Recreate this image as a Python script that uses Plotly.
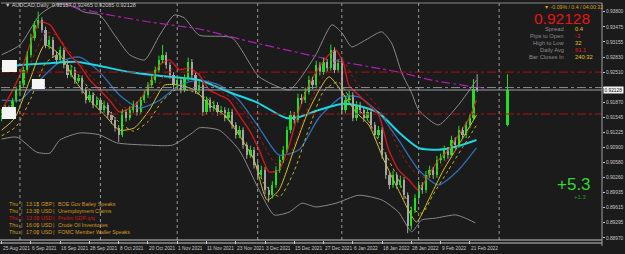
import plotly.graph_objects as go

# ---------------- data ----------------
tick_labels = ["25 Aug 2021", "6 Sep 2021", "16 Sep 2021", "28 Sep 2021", "8 Oct 2021",
               "20 Oct 2021", "1 Nov 2021", "11 Nov 2021", "23 Nov 2021", "3 Dec 2021",
               "15 Dec 2021", "27 Dec 2021", "6 Jan 2022", "18 Jan 2022", "28 Jan 2022",
               "9 Feb 2022", "21 Feb 2022"]
tick_bars = [0, 8, 16, 24, 32, 40, 48, 56, 64, 72, 80, 88, 96, 104, 112, 120, 128]
month_start_bars = [5, 27, 48, 70, 93, 114, 136]

opens = [0.9153, 0.9166, 0.9174, 0.9159, 0.9191, 0.9213, 0.9223, 0.9256, 0.9288, 0.9324,
         0.9352, 0.9362, 0.9341, 0.9309, 0.9320, 0.9288, 0.9277, 0.9298, 0.9266, 0.9245,
         0.9256, 0.9234, 0.9238, 0.9213, 0.9191, 0.9202, 0.9181, 0.9191, 0.9170, 0.9181,
         0.9159, 0.9149, 0.9132, 0.9117, 0.9166, 0.9153, 0.9170, 0.9181, 0.9166, 0.9191,
         0.9202, 0.9223, 0.9234, 0.9256, 0.9277, 0.9288, 0.9266, 0.9245, 0.9223, 0.9234,
         0.9213, 0.9238, 0.9273, 0.9245, 0.9213, 0.9223, 0.9166, 0.9191, 0.9174, 0.9181,
         0.9166, 0.9170, 0.9153, 0.9166, 0.9138, 0.9117, 0.9127, 0.9095, 0.9074, 0.9085,
         0.9053, 0.9031, 0.9042, 0.8999, 0.8988, 0.9010, 0.9042, 0.9063, 0.9085, 0.9127,
         0.9159, 0.9149, 0.9196, 0.9191, 0.9209, 0.9234, 0.9223, 0.9266, 0.9251, 0.9273,
         0.9260, 0.9298, 0.9256, 0.9270, 0.9170, 0.9191, 0.9202, 0.9153, 0.9181, 0.9170,
         0.9153, 0.9166, 0.9138, 0.9117, 0.9127, 0.9074, 0.9031, 0.9010, 0.9031, 0.9010,
         0.9021, 0.8988, 0.8922, 0.8956, 0.8982, 0.9010, 0.8999, 0.9031, 0.9042, 0.9031,
         0.9063, 0.9068, 0.9085, 0.9074, 0.9106, 0.9095, 0.9127, 0.9117, 0.9138, 0.9153,
         0.92157]
highs = [0.9172, 0.9181, 0.9180, 0.9196, 0.9220, 0.9232, 0.9262, 0.9296, 0.9333, 0.9360,
         0.9380, 0.9368, 0.9348, 0.9329, 0.9326, 0.9295, 0.9306, 0.9303, 0.9272, 0.9265,
         0.9262, 0.9246, 0.9244, 0.9218, 0.9211, 0.9208, 0.9199, 0.9197, 0.9190, 0.9186,
         0.9166, 0.9155, 0.9138, 0.9172, 0.9171, 0.9178, 0.9190, 0.9188, 0.9198, 0.9211,
         0.9230, 0.9243, 0.9263, 0.9286, 0.9309, 0.9294, 0.9272, 0.9251, 0.9243, 0.9240,
         0.9246, 0.9282, 0.9279, 0.9251, 0.9232, 0.9229, 0.9199, 0.9197, 0.9190, 0.9187,
         0.9179, 0.9176, 0.9174, 0.9172, 0.9144, 0.9136, 0.9133, 0.9101, 0.9094, 0.9091,
         0.9060, 0.9051, 0.9048, 0.9006, 0.9018, 0.9050, 0.9072, 0.9093, 0.9135, 0.9168,
         0.9166, 0.9205, 0.9204, 0.9218, 0.9243, 0.9241, 0.9275, 0.9272, 0.9282, 0.9279,
         0.9310, 0.9304, 0.9279, 0.9276, 0.9199, 0.9211, 0.9208, 0.9189, 0.9187, 0.9176,
         0.9174, 0.9172, 0.9144, 0.9136, 0.9133, 0.9080, 0.9037, 0.9040, 0.9037, 0.9030,
         0.9027, 0.8994, 0.8964, 0.8990, 0.9018, 0.9016, 0.9040, 0.9051, 0.9048, 0.9072,
         0.9077, 0.9094, 0.9091, 0.9115, 0.9112, 0.9136, 0.9133, 0.9146, 0.9162, 0.9236,
         0.92465]
lows = [0.9146, 0.9160, 0.9152, 0.9155, 0.9186, 0.9205, 0.9218, 0.9250, 0.9282, 0.9318,
        0.9344, 0.9335, 0.9302, 0.9300, 0.9281, 0.9268, 0.9272, 0.9259, 0.9238, 0.9240,
        0.9226, 0.9228, 0.9205, 0.9184, 0.9186, 0.9174, 0.9176, 0.9163, 0.9164, 0.9152,
        0.9140, 0.9124, 0.9102, 0.9112, 0.9145, 0.9148, 0.9164, 0.9158, 0.9161, 0.9185,
        0.9196, 0.9217, 0.9228, 0.9250, 0.9270, 0.9258, 0.9237, 0.9215, 0.9216, 0.9206,
        0.9208, 0.9232, 0.9238, 0.9205, 0.9206, 0.9158, 0.9160, 0.9166, 0.9167, 0.9158,
        0.9159, 0.9146, 0.9147, 0.9130, 0.9109, 0.9110, 0.9087, 0.9066, 0.9068, 0.9045,
        0.9023, 0.9024, 0.8990, 0.8973, 0.8981, 0.9004, 0.9036, 0.9057, 0.9079, 0.9120,
        0.9141, 0.9143, 0.9183, 0.9185, 0.9203, 0.9215, 0.9217, 0.9244, 0.9245, 0.9252,
        0.9254, 0.9249, 0.9250, 0.9160, 0.9164, 0.9185, 0.9146, 0.9147, 0.9162, 0.9145,
        0.9147, 0.9130, 0.9109, 0.9110, 0.9066, 0.9023, 0.9001, 0.9004, 0.9002, 0.9004,
        0.8980, 0.8907, 0.8915, 0.8950, 0.8976, 0.8991, 0.8993, 0.9025, 0.9023, 0.9025,
        0.9056, 0.9062, 0.9066, 0.9068, 0.9087, 0.9089, 0.9109, 0.9110, 0.9131, 0.9147,
        0.92085]
closes = [0.9166, 0.9174, 0.9159, 0.9191, 0.9213, 0.9223, 0.9256, 0.9288, 0.9324, 0.9352,
          0.9362, 0.9341, 0.9309, 0.9320, 0.9288, 0.9277, 0.9298, 0.9266, 0.9245, 0.9256,
          0.9234, 0.9238, 0.9213, 0.9191, 0.9202, 0.9181, 0.9191, 0.9170, 0.9181, 0.9159,
          0.9149, 0.9132, 0.9117, 0.9166, 0.9153, 0.9170, 0.9181, 0.9166, 0.9191, 0.9202,
          0.9223, 0.9234, 0.9256, 0.9277, 0.9288, 0.9266, 0.9245, 0.9223, 0.9234, 0.9213,
          0.9238, 0.9273, 0.9245, 0.9213, 0.9223, 0.9166, 0.9191, 0.9174, 0.9181, 0.9166,
          0.9170, 0.9153, 0.9166, 0.9138, 0.9117, 0.9127, 0.9095, 0.9074, 0.9085, 0.9053,
          0.9031, 0.9042, 0.8999, 0.8988, 0.9010, 0.9042, 0.9063, 0.9085, 0.9127, 0.9159,
          0.9149, 0.9196, 0.9191, 0.9209, 0.9234, 0.9223, 0.9266, 0.9251, 0.9273, 0.9260,
          0.9298, 0.9256, 0.9270, 0.9170, 0.9191, 0.9202, 0.9153, 0.9181, 0.9170, 0.9153,
          0.9166, 0.9138, 0.9117, 0.9127, 0.9074, 0.9031, 0.9010, 0.9031, 0.9010, 0.9021,
          0.8988, 0.8922, 0.8956, 0.8982, 0.9010, 0.8999, 0.9031, 0.9042, 0.9031, 0.9063,
          0.9068, 0.9085, 0.9074, 0.9106, 0.9095, 0.9127, 0.9117, 0.9138, 0.9153, 0.92157,
          0.92128]

# higher-timeframe (weekly) candle drawn right of price
htf_ohlc = [0.9138, 0.92465, 0.9135, 0.92128]

# indicator lines, read at key points (bar index, price)
cyan_x = [0, 5.0, 13.2, 20.5, 26.8, 35.0, 43.2, 54.0, 62.2, 69.6, 77.8, 81.3, 86.7, 93.0, 97.6, 103.1, 108.5, 114.0, 119.4, 124.9, 129.8]
cyan_y = [0.9258, 0.9266, 0.9270, 0.9273, 0.9264, 0.9251, 0.9243, 0.9234, 0.9208, 0.9187, 0.9153, 0.9155, 0.9170, 0.9183, 0.9179, 0.9164, 0.9123, 0.9089, 0.9085, 0.9093, 0.9106]

blue_x = [0, 5.0, 10.4, 15.9, 21.3, 26.8, 32.2, 37.7, 43.2, 48.6, 54.0, 59.5, 64.9, 70.4, 75.8, 81.3, 86.7, 93.0, 97.6, 103.1, 108.5, 114.0, 119.4, 124.9, 129.8]
blue_y = [0.9191, 0.9191, 0.9234, 0.9273, 0.9283, 0.9251, 0.9202, 0.9174, 0.9191, 0.9223, 0.9234, 0.9223, 0.9191, 0.9132, 0.9074, 0.9085, 0.9153, 0.9198, 0.9198, 0.9164, 0.9106, 0.9042, 0.9010, 0.9042, 0.9089]

red_x = [0, 2.3, 5.0, 7.7, 10.4, 13.2, 15.9, 18.6, 21.3, 24.1, 26.8, 29.5, 32.2, 35.0, 37.7, 40.4, 43.2, 45.9, 48.6, 51.3, 54.0, 56.8, 59.5, 62.2, 64.9, 67.7, 70.4, 73.1, 75.8, 78.6, 81.3, 84.0, 86.7, 89.5, 91.4, 93.6, 94.9, 97.6, 100.4, 103.1, 105.8, 108.5, 111.3, 114.0, 116.7, 119.4, 122.2, 124.9, 127.6, 129.8]
red_y = [0.9170, 0.9202, 0.9245, 0.9309, 0.9358, 0.9352, 0.9320, 0.9288, 0.9266, 0.9234, 0.9213, 0.9191, 0.9166, 0.9174, 0.9191, 0.9223, 0.9266, 0.9277, 0.9256, 0.9260, 0.9245, 0.9213, 0.9202, 0.9191, 0.9159, 0.9127, 0.9085, 0.9038, 0.9042, 0.9095, 0.9170, 0.9223, 0.9260, 0.9288, 0.9298, 0.9266, 0.9223, 0.9202, 0.9181, 0.9159, 0.9085, 0.9042, 0.9021, 0.8999, 0.9031, 0.9063, 0.9085, 0.9117, 0.9149, 0.9191]

red_dash_x = [0, 3, 6, 9, 12, 15, 18, 21, 24, 27, 30, 33, 36, 39, 42, 45, 48, 51, 54, 57, 60, 63, 66, 69, 72, 75, 78, 81, 84, 87, 90, 93, 96, 99, 102, 105, 108, 111, 114, 117, 120, 123, 126, 129]
red_dash_y = [0.9160, 0.9185, 0.9230, 0.9290, 0.9335, 0.9330, 0.9300, 0.9275, 0.9245, 0.9222, 0.9200, 0.9178, 0.9170, 0.9182, 0.9210, 0.9250, 0.9262, 0.9250, 0.9248, 0.9230, 0.9210, 0.9195, 0.9170, 0.9135, 0.9090, 0.9055, 0.9065, 0.9115, 0.9180, 0.9230, 0.9265, 0.9280, 0.9240, 0.9210, 0.9185, 0.9150, 0.9095, 0.9055, 0.9030, 0.9025, 0.9050, 0.9075, 0.9105, 0.9145]

yellow_x = [0, 3.6, 7.7, 11.8, 15.9, 20.0, 24.1, 28.2, 32.2, 36.3, 40.4, 44.5, 48.6, 52.7, 56.8, 60.9, 64.9, 69.0, 72.6, 75.8, 79.9, 84.0, 89.5, 93.6, 96.8, 100.4, 104.5, 108.5, 113.4, 116.7, 120.8, 124.9, 129.8]
yellow_y = [0.9127, 0.9153, 0.9234, 0.9309, 0.9288, 0.9234, 0.9191, 0.9159, 0.9127, 0.9132, 0.9170, 0.9223, 0.9223, 0.9213, 0.9181, 0.9159, 0.9117, 0.9063, 0.8978, 0.8999, 0.9085, 0.9170, 0.9241, 0.9202, 0.9166, 0.9138, 0.9063, 0.8999, 0.8931, 0.8978, 0.9042, 0.9095, 0.9159]

yellow_dash_x = [0, 4, 8, 12, 16, 20, 24, 28, 32, 36, 40, 44, 48, 52, 56, 60, 64, 68, 72, 76, 80, 84, 88, 92, 96, 100, 104, 108, 112, 115, 118, 122, 126, 130]
yellow_dash_y = [0.9115, 0.9135, 0.9195, 0.9270, 0.9290, 0.9255, 0.9215, 0.9180, 0.9145, 0.9125, 0.9145, 0.9190, 0.9215, 0.9210, 0.9195, 0.9170, 0.9130, 0.9080, 0.9010, 0.8985, 0.9040, 0.9130, 0.9210, 0.9230, 0.9185, 0.9150, 0.9090, 0.9030, 0.8960, 0.8950, 0.8990, 0.9040, 0.9090, 0.9140]

bb_up_x = [0, 5.0, 10.4, 14.5, 18.6, 22.7, 26.8, 30.9, 35.0, 39.1, 43.2, 47.2, 49.9, 54.0, 63.0, 70.4, 78.6, 81.3, 85.9, 90.3, 93.0, 95.7, 99.6, 103.9, 106.6, 109.4, 112.1, 114.0, 119.4, 124.9, 129.8]
bb_up_y = [0.9288, 0.9309, 0.9373, 0.9394, 0.9394, 0.9379, 0.9373, 0.9330, 0.9288, 0.9277, 0.9330, 0.9373, 0.9367, 0.9330, 0.9324, 0.9241, 0.9213, 0.9234, 0.9288, 0.9352, 0.9335, 0.9305, 0.9320, 0.9337, 0.9313, 0.9249, 0.9206, 0.9170, 0.9138, 0.9181, 0.9234]

bb_lo_x = [0, 4.2, 9.6, 13.2, 15.9, 21.3, 26.8, 31.4, 40.4, 46.7, 52.1, 54.0, 59.5, 64.9, 70.4, 74.5, 78.6, 82.1, 85.9, 91.4, 97.6, 103.9, 108.5, 112.1, 114.8, 118.6, 124.1, 126.8, 129.5]
bb_lo_y = [0.9108, 0.9112, 0.9080, 0.9078, 0.9106, 0.9121, 0.9117, 0.9100, 0.9095, 0.9095, 0.9121, 0.9132, 0.9127, 0.9085, 0.8999, 0.8946, 0.8952, 0.8971, 0.8963, 0.8971, 0.8988, 0.8978, 0.8952, 0.8910, 0.8935, 0.8939, 0.8946, 0.8939, 0.8929]

ma200_x = [0, 15.4, 26.8, 40.4, 54.0, 69.6, 90.3, 108.5, 117.5, 129.5, 132.0]
ma200_y = [0.9430, 0.93986, 0.9377, 0.9358, 0.9343, 0.9313, 0.9277, 0.9251, 0.9234, 0.9219, 0.9217]

red_levels = [0.9251, 0.91615]
grey_level = 0.92180
bid_price = 0.92128

price_ticks = [0.93800, 0.93475, 0.93155, 0.92830, 0.92510, 0.92190, 0.91870, 0.91545,
               0.91225, 0.90900, 0.90580, 0.90260, 0.89935, 0.89615, 0.89295, 0.88970]
# the 0.92190 label is hidden behind the current-price tag in the reference
price_tick_text = ["0.93800", "0.93475", "0.93155", "0.92830", "0.92510", "", "0.91870", "0.91545",
                   "0.91225", "0.90900", "0.90580", "0.90260", "0.89935", "0.89615", "0.89295", "0.88970"]

events = [("Thu", "13:15", "GBP", "BOE Gov Bailey Speaks"),
          ("Thu", "13:30", "USD", "Unemployment Claims"),
          ("Thu", "13:30", "USD", "Prelim GDP q/q"),
          ("Thu", "16:00", "USD", "Crude Oil Inventories"),
          ("Thu", "17:00", "USD", "FOMC Member Waller Speaks")]
event_high = [False, False, True, False, False]

info_labels = ["Spread", "Pips to Open", "High to Low", "Daily Avg", "Bar Closes In"]
info_values = ["0.4", "-3", "32", "61.1", "240:32"]
info_value_colors = ["#e6c21e", "#e02020", "#e6c21e", "#e02020", "#e6c21e"]

# ---------------- layout geometry ----------------
W, H = 625, 254
L_M, R_M, T_M, B_M = 1, 21, 3, 14
PW = W - L_M - R_M
PH = H - T_M - B_M
X_RANGE = [-0.177, 164.13]
Y_RANGE = [0.88924, 0.93986]
BG = "#1b1b1b"
FONT = "Liberation Sans"


def pxx(x):
    return (x - L_M) / PW


def pxy(y):
    return (H - B_M - y) / PH


fig = go.Figure()

# moving-average / band lines
def add_line(xs, ys, color, width, dash="solid", shape="spline"):
    fig.add_trace(go.Scatter(x=xs, y=ys, mode="lines", line=dict(color=color, width=width, dash=dash, shape=shape, smoothing=0.6),
                             hoverinfo="skip", showlegend=False))

add_line(bb_up_x, bb_up_y, "#8a8a8a", 1)
add_line(bb_lo_x, bb_lo_y, "#8a8a8a", 1)
add_line(ma200_x, ma200_y, "#b21eb2", 1.2, dash="dashdot")
add_line(blue_x, blue_y, "#2f6fb8", 1.3)
add_line(cyan_x, cyan_y, "#19d6e6", 2)
add_line(yellow_dash_x, yellow_dash_y, "#c9b21c", 1, dash="dot")
add_line(yellow_x, yellow_y, "#d8c423", 1)
add_line(red_dash_x, red_dash_y, "#b01414", 1, dash="dot")
add_line(red_x, red_y, "#d01818", 1.4)

# candles: wicks + bodies
idx = list(range(len(closes)))
for bull, col in ((True, "#1fe01f"), (False, "#a6a6a6")):
    sel = [i for i in idx if (closes[i] >= opens[i]) == bull]
    wx, wy = [], []
    for i in sel:
        wx += [i, i, None]
        wy += [lows[i], highs[i], None]
    fig.add_trace(go.Scatter(x=wx, y=wy, mode="lines", line=dict(color=col, width=1),
                             hoverinfo="skip", showlegend=False))
    fig.add_trace(go.Bar(x=sel, y=[max(abs(closes[i] - opens[i]), 0.00005) for i in sel],
                         base=[min(opens[i], closes[i]) for i in sel], width=0.62,
                         marker=dict(color=col, line=dict(width=0)), hoverinfo="skip", showlegend=False))

# higher timeframe candle
htf_x = 138.3
fig.add_trace(go.Scatter(x=[htf_x, htf_x], y=[htf_ohlc[2], htf_ohlc[1]], mode="lines",
                         line=dict(color="#1fe01f", width=1), hoverinfo="skip", showlegend=False))
fig.add_trace(go.Bar(x=[htf_x], y=[htf_ohlc[3] - htf_ohlc[0]], base=[htf_ohlc[0]], width=0.8,
                     marker=dict(color="#1fe01f", line=dict(width=0)), hoverinfo="skip", showlegend=False))

shapes = []
# horizontal levels
for lv in red_levels:
    shapes.append(dict(type="line", xref="paper", x0=0, x1=1, yref="y", y0=lv, y1=lv,
                       line=dict(color="#b01010", width=1, dash="dashdot")))
shapes.append(dict(type="line", xref="paper", x0=0, x1=1, yref="y", y0=grey_level, y1=grey_level,
                   line=dict(color="#8c8c8c", width=1, dash="dashdot")))
shapes.append(dict(type="line", xref="paper", x0=0, x1=1, yref="y", y0=bid_price, y1=bid_price,
                   line=dict(color="#9aa0a8", width=1)))
# month separators
for b in month_start_bars:
    shapes.append(dict(type="line", xref="x", x0=b, x1=b, yref="paper", y0=0, y1=1,
                       line=dict(color="#9a9a9a", width=1, dash="dot")))
# frame
shapes.append(dict(type="line", xref="paper", x0=0, x1=1, yref="paper", y0=1, y1=1, line=dict(color="#8a8a8a", width=1)))
shapes.append(dict(type="line", xref="paper", x0=1, x1=1, yref="paper", y0=pxy(246), y1=1, line=dict(color="#a0a0a0", width=1)))
shapes.append(dict(type="line", xref="paper", x0=pxx(0), x1=1, yref="paper", y0=0, y1=0, line=dict(color="#c8c8c8", width=1)))
shapes.append(dict(type="line", xref="paper", x0=pxx(0), x1=1, yref="paper", y0=pxy(243), y1=pxy(243), line=dict(color="#c8c8c8", width=1)))
# white label boxes at left
for (x0, x1, y0, y1) in [(2, 17, 60, 72), (32, 45, 79, 89), (2, 16, 107, 119)]:
    shapes.append(dict(type="rect", xref="paper", yref="paper", x0=pxx(x0), x1=pxx(x1), y0=pxy(y1), y1=pxy(y0),
                       fillcolor="#f4f4f4", line=dict(width=0)))

ann = []
def text(x, y, s, size, color, xanchor="left", family=FONT, **kw):
    ann.append(dict(xref="paper", yref="paper", x=pxx(x), y=pxy(y), text=s, showarrow=False,
                    xanchor=xanchor, yanchor="middle", font=dict(size=size, color=color, family=family), **kw))

# title
text(3, 5, "▼ AUDCAD,Daily  0.92157 0.92465 0.92085 0.92128", 5.5, "#c8c8c8")
# date labels (left-aligned at tick)
for b, lab in zip(tick_bars, tick_labels):
    ann.append(dict(xref="x", yref="paper", x=b, y=pxy(248.5), text=lab, showarrow=False, xanchor="left",
                    yanchor="middle", xshift=-1, font=dict(size=4.8, color="#c8c8c8", family=FONT)))
# top-right info panel
text(544, 6.5, "▼ -0.09% / 0.4 / 04:00:32", 5.2, "#d8a21c")
text(594, 18.5, "0.92128", 15.5, "#e61414", xanchor="right")
for k, (lab, val, vc) in enumerate(zip(info_labels, info_values, info_value_colors)):
    yy = 28.7 + k * 7.2
    text(568, yy, lab, 5.8, "#8c8c8c", xanchor="right")
    text(575, yy, val, 5.8, vc)
text(595, 184, "+5.3", 17, "#33d633", xanchor="right")
text(591, 196.5, "+1.3", 6, "#1f9f1f", xanchor="right")
# events
for k, (d, t, cur, name) in enumerate(events):
    col = "#d01414" if event_high[k] else "#d49a1c"
    yy = 204 + k * 7
    text(7, yy, d, 5.3, col)
    text(19.5, yy, "|", 5.3, col)
    text(24, yy, t, 5.3, col)
    text(35.5, yy, "|", 5.3, col)
    text(39, yy, cur, 5.3, col)
    text(51, yy, "|", 5.3, col)
    text(56, yy, name, 5.3, col)
# current price tag on axis
ann.append(dict(xref="paper", yref="y", x=1.0, y=bid_price, text="0.92128", showarrow=False, xanchor="left",
                yanchor="middle", xshift=1, bgcolor="#f2f2f2", borderpad=0.5,
                font=dict(size=4.8, color="#111111", family=FONT)))

fig.update_layout(
    width=W, height=H, margin=dict(l=L_M, r=R_M, t=T_M, b=B_M),
    paper_bgcolor=BG, plot_bgcolor=BG, bargap=0, barmode="overlay",
    shapes=shapes, annotations=ann, showlegend=False,
    xaxis=dict(range=X_RANGE, showgrid=False, zeroline=False, showticklabels=False,
               tickvals=tick_bars, ticks="outside", ticklen=3, tickcolor="#c8c8c8", showline=False, fixedrange=True),
    yaxis=dict(range=Y_RANGE, side="right", showgrid=False, zeroline=False, tickvals=price_ticks,
               ticktext=price_tick_text, ticks="outside", ticklen=2, tickcolor="#c8c8c8",
               tickfont=dict(size=4.8, color="#c8c8c8", family=FONT), showline=False, fixedrange=True),
)

fig.write_html("out.html")
